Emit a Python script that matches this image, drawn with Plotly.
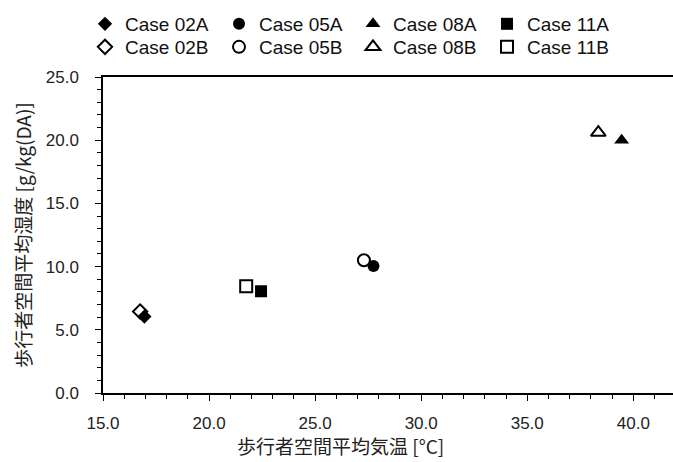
import plotly.graph_objects as go

names = ["Case 02A", "Case 05A", "Case 08A", "Case 11A",
         "Case 02B", "Case 05B", "Case 08B", "Case 11B"]
temp = [16.95, 27.75, 39.45, 22.45, 16.75, 27.3, 38.35, 21.75]
humid = [6.05, 10.05, 20.0, 8.05, 6.45, 10.5, 20.6, 8.45]
symbols = ["diamond", "circle", "triangle-up", "square",
           "diamond-open", "circle-open", "triangle-up-open", "square-open"]
sizes = [11, 12, 13, 12, 11, 12, 13, 12]
x_title = "歩行者空間平均気温 [°C]"
y_title = "歩行者空間平均湿度 [g/kg(DA)]"

font_main = "Liberation Sans, Arial, Noto Sans CJK JP, sans-serif"
font_jp = "Noto Sans CJK JP, Liberation Sans, sans-serif"

W, H = 680, 462
ML, MT, MB = 103, 77, 69
PW = W - ML

fig = go.Figure()
for n, x, y, s, sz in zip(names, temp, humid, symbols, sizes):
    fig.add_trace(go.Scatter(
        x=[x], y=[y], mode="markers", name=n,
        legend="legend2" if n.endswith("B") else "legend",
        marker=dict(symbol=s, size=sz, color="black",
                    line=dict(color="black", width=2 if "open" in s else 0)),
    ))

axis_common = dict(
    showgrid=False, zeroline=False, showline=True, linecolor="black",
    linewidth=1.5, mirror=True, ticks="outside", ticklen=6, tickwidth=1,
    tickcolor="black", tickformat=".1f",
    tickfont=dict(family=font_main, size=17, color="#222"),
)

fig.update_xaxes(
    range=[15, 42.2], dtick=5, tick0=15, ticklabelstandoff=8,
    minor=dict(dtick=1, ticks="outside", ticklen=4, tickcolor="black"),
    **axis_common,
)
fig.update_yaxes(
    range=[0, 25], dtick=5, tick0=0, ticklabelstandoff=13,
    minor=dict(dtick=1, ticks="outside", ticklen=4, tickcolor="black"),
    title=dict(text=y_title,
               font=dict(family=font_jp, size=19, color="#222"), standoff=9),
    **axis_common,
)

fig.add_annotation(
    text=x_title, xref="paper", yref="paper",
    x=(340 - ML) / PW, y=-0.165, xanchor="center", yanchor="middle",
    showarrow=False, font=dict(family=font_jp, size=19, color="#222"),
)

legend_common = dict(
    orientation="h", x=-18 / PW, xanchor="left", yref="paper", yanchor="top",
    entrywidth=89, entrywidthmode="pixels", itemwidth=30,
    font=dict(family=font_main, size=19, color="#111"),
    bgcolor="rgba(0,0,0,0)",
)

fig.update_layout(
    width=W, height=H,
    margin=dict(l=ML, r=0, t=MT, b=MB, autoexpand=False),
    plot_bgcolor="white", paper_bgcolor="white",
    showlegend=True,
    legend=dict(y=1.228, **legend_common),
    legend2=dict(y=1.155, **legend_common),
)

fig.write_html(
    "out.html",
    config={"displayModeBar": False},
    post_script="document.body.style.margin='0';document.body.style.overflow='hidden';",
)
